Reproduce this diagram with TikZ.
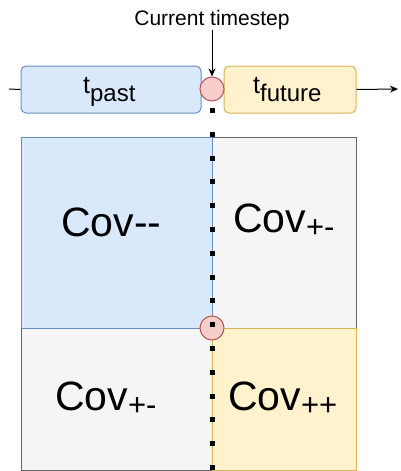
\documentclass[tikz,border=0pt]{standalone}
\usepackage{fontspec}
\setmainfont{Liberation Sans}
\usetikzlibrary{arrows.meta}
\definecolor{bluef}{HTML}{DAE8FC}
\definecolor{bluel}{HTML}{6C8EBF}
\definecolor{yelf}{HTML}{FFF2CC}
\definecolor{yell}{HTML}{D6B656}
\definecolor{grayf}{HTML}{F5F5F5}
\definecolor{grayl}{HTML}{666666}
\definecolor{redf}{HTML}{F8CECC}
\definecolor{redl}{HTML}{B85450}
\tikzset{
  pastbox/.style={draw=bluel, fill=bluef, rounded corners=5pt, line width=1pt, inner sep=0pt, minimum width=180pt, minimum height=47pt},
  futurebox/.style={draw=yell, fill=yelf, rounded corners=5pt, line width=1pt, inner sep=0pt, minimum width=132pt, minimum height=47pt},
  dotnode/.style={circle, draw=redl, fill=redf, line width=1pt, inner sep=0pt, minimum size=24pt},
  bluecell/.style={draw=bluel, fill=bluef, line width=1pt, inner sep=0pt, anchor=north west},
  yelcell/.style={draw=yell, fill=yelf, line width=1pt, inner sep=0pt, anchor=north west},
  graycell/.style={draw=grayl, fill=grayf, line width=1pt, inner sep=0pt, anchor=north west},
  txt/.style={inner sep=0pt, anchor=base west},
  bigtxt/.style={txt, font=\fontsize{41}{41}\selectfont},
  midtxt/.style={txt, font=\fontsize{25}{25}\selectfont},
  conn/.style={line width=1pt, draw=black},
  arr/.style={conn, -{Stealth[length=8pt,width=7pt]}},
  dotline/.style={line width=5pt, dash pattern=on 5pt off 18.8pt, dash phase=17.3pt}
}
\newcommand{\subsm}[1]{\raisebox{-8pt}{\fontsize{24}{24}\selectfont #1}}
\newcommand{\subcv}[1]{\raisebox{-5pt}{\fontsize{31}{31}\selectfont #1}}
\begin{document}
\begin{tikzpicture}[x=1pt,y=-1pt]
\useasboundingbox (0,0) rectangle (400,471);
% top timeline
\node[pastbox] (past) at (111,89.5) {};
\node[futurebox] (future) at (290,89.5) {};
\node[dotnode] (now) at (212,89) {};
\node[midtxt] (pastlbl) at (83,93) {t\subsm{past}};
\node[midtxt] (futurelbl) at (253,93) {t\subsm{future}};
\node[inner sep=0pt, anchor=base, font=\fontsize{21}{21}\selectfont] (ctlbl) at (212,25) {Current timestep};
\coordinate (lstart) at (9,89);
\coordinate (lend) at (398,89);
\draw[conn] (lstart) -- (past.west);
\draw[arr] (future.east) -- (lend);
\draw[arr] (ctlbl.south) -- (now.north);
% matrix
\node[graycell, minimum width=144pt, minimum height=191pt] (tr) at (212,137) {};
\node[graycell, minimum width=191pt, minimum height=142pt] (bl) at (21,328) {};
\node[bluecell, minimum width=191pt, minimum height=191pt] (tl) at (21,137) {};
\node[yelcell, minimum width=144pt, minimum height=142pt] (br) at (212,328) {};
\node[dotnode] (mid) at (212,328) {};
\node[bigtxt] (covmm) at (61,236) {Cov-{}-};
\node[bigtxt] (covpm1) at (233,232) {Cov\subcv{+-}};
\node[bigtxt] (covpm2) at (55,410) {Cov\subcv{+-}};
\node[bigtxt] (covpp) at (228,410) {Cov\subcv{++}};
% dotted current-time line
\coordinate (dotend) at (212,475);
\draw[dotline] (now.south) -- (dotend);
\end{tikzpicture}
\end{document}
